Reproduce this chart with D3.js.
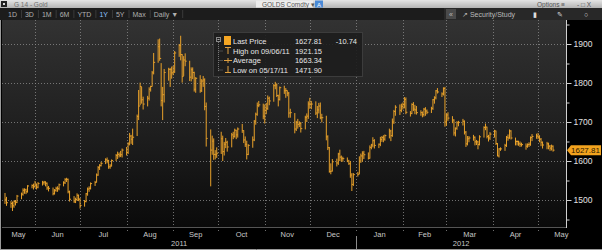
<!DOCTYPE html>
<html>
<head>
<meta charset="utf-8">
<script src="https://cdn.jsdelivr.net/npm/d3@7"></script>
<style>
html, body { margin: 0; padding: 0; background: #000; }
svg { display: block; font-family: "Liberation Sans", Arial, sans-serif; }
</style>
</head>
<body>
<svg id="chart" width="602" height="250"></svg>
<script>
// first trading day of the 1Y window, one value per weekday after it
var startDate = new Date(2011, 4, 12);

var closes = [
    1502, 1493, 1491, 1485, 1496, 1494, 1510, 1515, 1525, 1526, 1521, 1536, 1537, 1535,
    1541, 1533, 1542, 1544, 1546, 1543, 1531, 1530, 1516, 1525, 1530, 1529, 1539, 1544, 1552, 1553, 1521, 1502, 1495, 1501, 1512, 1502,
    1486, 1496, 1516, 1528, 1530, 1542, 1545, 1564, 1583, 1588, 1594, 1603, 1601, 1585, 1587, 1601, 1614, 1617, 1615, 1616, 1628,
    1622, 1644, 1664, 1656, 1661, 1714, 1741, 1791, 1757, 1746, 1761, 1784, 1791, 1826, 1853, 1893, 1863, 1755, 1770, 1827, 1835, 1835, 1826,
    1828, 1877, 1896, 1873, 1817, 1859, 1856, 1815, 1834, 1827, 1784, 1812, 1780, 1805, 1808, 1740, 1658, 1628, 1651, 1617, 1616, 1620,
    1657, 1624, 1643, 1648, 1636, 1667, 1663, 1679, 1667, 1682, 1678, 1654, 1643, 1617, 1640, 1654, 1702, 1720, 1742, 1744, 1715,
    1730, 1735, 1761, 1754, 1793, 1795, 1768, 1758, 1788, 1780, 1781, 1774, 1723, 1724, 1682, 1699, 1694, 1696, 1683, 1712, 1715, 1746,
    1746, 1746, 1723, 1731, 1741, 1711, 1711, 1662, 1634, 1573, 1574, 1598, 1595, 1618, 1610, 1606, 1606, 1600, 1593, 1564, 1540, 1565,
    1566, 1600, 1613, 1620, 1616, 1607, 1635, 1641, 1652, 1640, 1643, 1655, 1660, 1656, 1665, 1677, 1665, 1700, 1727, 1738, 1730, 1740,
    1745, 1758, 1725, 1722, 1745, 1733, 1731, 1724, 1724, 1719, 1733, 1728, 1725, 1735, 1757, 1762, 1780, 1777, 1772, 1786, 1700,
    1718, 1710, 1705, 1672, 1684, 1698, 1699, 1702, 1674, 1644, 1657, 1659, 1661, 1649, 1649, 1642, 1662, 1686, 1687, 1663, 1659, 1669,
    1677, 1645, 1613, 1631, 1631, 1640, 1661, 1659, 1677, 1659, 1650, 1650, 1644, 1643, 1642, 1638, 1642, 1643, 1660, 1663, 1664,
    1662, 1656, 1648, 1641, 1644, 1638, 1633, 1638, 1627.81
];

var highs = [
    1518, 1508, 1497, 1496, 1499, 1500, 1513, 1519, 1530, 1530, 1529, 1538, 1540, 1542,
    1549, 1542, 1546, 1549, 1549, 1548, 1545, 1536, 1532, 1528, 1534, 1535, 1542, 1548, 1556, 1557, 1555, 1524, 1510, 1506, 1517, 1514,
    1505, 1500, 1518, 1532, 1535, 1545, 1549, 1568, 1587, 1592, 1598, 1607, 1609, 1603, 1592, 1604, 1618, 1624, 1622, 1626, 1632,
    1636, 1648, 1672, 1667, 1683, 1719, 1782, 1801, 1790, 1765, 1767, 1789, 1793, 1831, 1877, 1912, 1914, 1851, 1790, 1836, 1839, 1838, 1842,
    1844, 1882, 1900, 1921.15, 1874, 1869, 1876, 1857, 1840, 1840, 1829, 1815, 1820, 1810, 1818, 1812, 1750, 1681, 1665, 1658, 1628, 1635,
    1675, 1665, 1649, 1659, 1652, 1672, 1675, 1683, 1680, 1686, 1695, 1679, 1663, 1652, 1643, 1663, 1705, 1724, 1750, 1754, 1747,
    1745, 1749, 1768, 1765, 1797, 1803, 1799, 1770, 1791, 1793, 1787, 1781, 1777, 1734, 1723, 1703, 1708, 1702, 1700, 1716, 1722, 1753,
    1762, 1754, 1753, 1741, 1749, 1750, 1721, 1716, 1666, 1636, 1594, 1605, 1606, 1621, 1629, 1614, 1611, 1609, 1603, 1600, 1569, 1569,
    1572, 1612, 1619, 1625, 1626, 1622, 1640, 1644, 1661, 1656, 1645, 1662, 1664, 1666, 1668, 1683, 1680, 1709, 1731, 1743, 1745, 1747,
    1750, 1764, 1763, 1728, 1748, 1751, 1744, 1741, 1730, 1727, 1736, 1738, 1732, 1739, 1759, 1766, 1782, 1787, 1776, 1789, 1790,
    1722, 1725, 1715, 1707, 1686, 1702, 1703, 1708, 1704, 1677, 1664, 1664, 1667, 1663, 1654, 1652, 1666, 1689, 1696, 1688, 1667, 1674,
    1680, 1678, 1646, 1633, 1635, 1644, 1664, 1668, 1681, 1679, 1660, 1653, 1652, 1650, 1647, 1645, 1645, 1648, 1663, 1669, 1670,
    1672, 1666, 1659, 1650, 1649, 1647, 1641, 1642, 1640
];

var lows = [
    1490, 1485, 1480, 1471.9, 1480, 1486, 1492, 1502, 1511, 1516, 1515, 1519, 1530, 1527,
    1531, 1527, 1530, 1537, 1539, 1535, 1526, 1522, 1512, 1514, 1521, 1521, 1525, 1535, 1541, 1546, 1517, 1496, 1493, 1492, 1498, 1497,
    1478, 1483, 1494, 1511, 1521, 1527, 1536, 1545, 1562, 1577, 1586, 1592, 1594, 1580, 1580, 1586, 1600, 1605, 1609, 1610, 1609,
    1614, 1618, 1640, 1644, 1641, 1664, 1705, 1743, 1747, 1732, 1740, 1755, 1778, 1791, 1822, 1852, 1857, 1740, 1705, 1750, 1806, 1790, 1811,
    1820, 1826, 1867, 1858, 1801, 1818, 1843, 1805, 1804, 1810, 1778, 1775, 1775, 1777, 1790, 1730, 1637, 1535, 1616, 1603, 1604, 1608,
    1618, 1600, 1614, 1633, 1624, 1635, 1656, 1660, 1656, 1660, 1672, 1646, 1636, 1604, 1615, 1634, 1651, 1693, 1716, 1738, 1707,
    1696, 1720, 1731, 1743, 1752, 1784, 1764, 1740, 1755, 1772, 1762, 1766, 1711, 1711, 1671, 1677, 1683, 1687, 1673, 1681, 1700, 1708,
    1734, 1733, 1718, 1710, 1722, 1707, 1699, 1653, 1628, 1570, 1566, 1573, 1586, 1590, 1600, 1598, 1598, 1597, 1590, 1557, 1523, 1536,
    1560, 1566, 1595, 1598, 1605, 1604, 1606, 1630, 1635, 1632, 1633, 1638, 1649, 1648, 1652, 1658, 1651, 1662, 1695, 1716, 1718, 1725,
    1732, 1735, 1720, 1714, 1720, 1728, 1720, 1719, 1716, 1712, 1714, 1716, 1720, 1723, 1731, 1747, 1758, 1773, 1764, 1768, 1688,
    1690, 1703, 1697, 1665, 1663, 1680, 1689, 1691, 1668, 1636, 1640, 1648, 1652, 1640, 1641, 1630, 1640, 1660, 1679, 1658, 1650, 1654,
    1660, 1641, 1612, 1609, 1626, 1626, 1636, 1652, 1657, 1655, 1640, 1640, 1639, 1636, 1637, 1629, 1634, 1636, 1639, 1651, 1657,
    1656, 1648, 1638, 1632, 1630, 1630, 1626, 1627, 1624
];

var yTicks = [1500, 1600, 1700, 1800, 1900];
var yMinorTicks = [1450, 1550, 1650, 1750, 1850, 1950];

var legendLabels = ['Last Price', 'High on 09/06/11', 'Average', 'Low on 05/17/11'];
var legendValues = ['1627.81', '1921.15', '1663.34', '1471.90'];
var lastChange = '-10.74';

var periodButtons = ['1D', '3D', '1M', '6M', 'YTD', '1Y', '5Y', 'Max', 'Daily \u25BC'];
var activeButton = '1Y';

var barColor = '#e8a12a';

var svg = d3.select('#chart');
var W = 602, H = 250;
var plot = { left: 2, right: 566, top: 20, bottom: 227 };

var days = d3.timeDay.range(startDate, new Date(2012, 5, 1)).filter(function(d) {
    var w = d.getDay();
    return w > 0 && w < 6;
}).slice(0, closes.length);

var bars = days.map(function(d, i) {
    return { date: d, close: closes[i], high: highs[i], low: lows[i] };
});

var x = d3.scaleTime()
    .domain([new Date(2011, 4, 10), new Date(2012, 4, 19, 15)])
    .range([plot.left, plot.right]);
var y = d3.scaleLinear().domain([1500, 1900]).range([200, 44]);

var defs = svg.append('defs');
var bg = defs.append('linearGradient').attr('id', 'bg').attr('x1', 0).attr('y1', 0).attr('x2', 0).attr('y2', 1);
bg.append('stop').attr('offset', '0%').attr('stop-color', '#323232');
bg.append('stop').attr('offset', '55%').attr('stop-color', '#1e1e1e');
bg.append('stop').attr('offset', '100%').attr('stop-color', '#0a0a0a');
var tb = defs.append('linearGradient').attr('id', 'tb').attr('x1', 0).attr('y1', 0).attr('x2', 0).attr('y2', 1);
tb.append('stop').attr('offset', '0%').attr('stop-color', '#e4e4e4');
tb.append('stop').attr('offset', '100%').attr('stop-color', '#b4b4b4');
defs.append('clipPath').attr('id', 'clip').append('rect')
    .attr('x', plot.left).attr('y', plot.top)
    .attr('width', plot.right - plot.left).attr('height', plot.bottom - plot.top);

svg.append('rect').attr('width', W).attr('height', H).attr('fill', '#000');

// title bar
svg.append('rect').attr('width', W).attr('height', 8).attr('fill', 'url(#tb)');
svg.append('rect').attr('x', 1).attr('y', 1).attr('width', 6).attr('height', 6).attr('fill', '#222');
svg.append('rect').attr('x', 3).attr('y', 3).attr('width', 2).attr('height', 2).attr('fill', '#ddd');
svg.append('text').attr('x', 14).attr('y', 6.5).attr('font-size', 6.5).attr('fill', '#707070').text('G 14 - Gold');
svg.append('rect').attr('x', 256).attr('y', 0.5).attr('width', 57).attr('height', 7).attr('fill', '#ececec');
svg.append('text').attr('x', 262).attr('y', 6.5).attr('font-size', 6.5).attr('fill', '#555').text('GOLDS Comdty \u25BE');
svg.append('rect').attr('x', 315).attr('y', 0.5).attr('width', 8).attr('height', 7).attr('fill', '#4a8ad6');
svg.append('text').attr('x', 319).attr('y', 6.5).attr('font-size', 6).attr('text-anchor', 'middle').attr('fill', '#fff').text('A');
svg.append('text').attr('x', 537).attr('y', 6.5).attr('font-size', 6.5).attr('fill', '#555').text('Options \u2261');
svg.append('text').attr('x', 577).attr('y', 6.5).attr('font-size', 6.5).attr('fill', '#555').text('-   \u25A1   X');

// toolbar
svg.append('rect').attr('y', 8).attr('width', W).attr('height', 12).attr('fill', '#1c1c1c');
var bx = 4;
periodButtons.forEach(function(label) {
    var t = svg.append('text').attr('y', 16.5).attr('font-size', 7)
        .attr('fill', label === activeButton ? '#8fc3ff' : '#b0b0b0').text(label);
    var w = t.node().getComputedTextLength();
    if (label === activeButton) {
        svg.insert('rect', 'text').attr('x', bx).attr('y', 9).attr('width', w + 8).attr('height', 10).attr('fill', '#26405e');
    }
    t.attr('x', bx + 4);
    bx += w + 8;
    svg.append('line').attr('x1', bx + 0.5).attr('x2', bx + 0.5).attr('y1', 10).attr('y2', 18).attr('stroke', '#3a3a3a');
});
svg.append('rect').attr('x', 444).attr('y', 8).attr('width', W - 444).attr('height', 12).attr('fill', '#282828');
svg.append('rect').attr('x', 446).attr('y', 9).attr('width', 10).attr('height', 10).attr('fill', '#4a4a4a');
svg.append('text').attr('x', 451).attr('y', 16.5).attr('font-size', 7).attr('text-anchor', 'middle').attr('fill', '#bbb').text('\u00AB');
svg.append('text').attr('x', 462).attr('y', 16.5).attr('font-size', 7).attr('fill', '#bbb').text('\u2197 Security/Study');
svg.append('text').attr('x', 533).attr('y', 17).attr('font-size', 7).attr('fill', '#ddd').text('\u25AE');
svg.append('text').attr('x', 557).attr('y', 17).attr('font-size', 7).attr('fill', '#ddd').text('\u270E');
svg.append('text').attr('x', 584).attr('y', 17).attr('font-size', 7).attr('fill', '#ddd').text('\u25CB');

// plot background
svg.append('rect')
    .attr('x', plot.left).attr('y', plot.top)
    .attr('width', plot.right - plot.left).attr('height', plot.bottom - plot.top)
    .attr('fill', 'url(#bg)');

// grid
var grid = svg.append('g').attr('stroke', '#8a8a8a').attr('stroke-dasharray', '1,2').attr('stroke-opacity', 0.8);
grid.selectAll('line.h').data(yTicks).enter().append('line')
    .attr('x1', plot.left).attr('x2', plot.right)
    .attr('y1', function(d) { return Math.round(y(d)) + 0.5; })
    .attr('y2', function(d) { return Math.round(y(d)) + 0.5; });
var monthStarts = d3.timeMonth.range(x.domain()[0], x.domain()[1]);
grid.selectAll('line.v').data(monthStarts).enter().append('line')
    .attr('x1', function(d) { return Math.round(x(d)) + 0.5; })
    .attr('x2', function(d) { return Math.round(x(d)) + 0.5; })
    .attr('y1', plot.top).attr('y2', plot.bottom + 4);

// price bars
var barG = svg.append('g').attr('clip-path', 'url(#clip)').attr('stroke', barColor).attr('stroke-width', 1);
barG.selectAll('line.hl').data(bars).enter().append('line')
    .attr('x1', function(d) { return x(d.date); })
    .attr('x2', function(d) { return x(d.date); })
    .attr('y1', function(d) { return y(d.high); })
    .attr('y2', function(d) { return y(d.low); });
barG.selectAll('line.c').data(bars).enter().append('line')
    .attr('x1', function(d) { return x(d.date); })
    .attr('x2', function(d) { return x(d.date) + 1.5; })
    .attr('y1', function(d) { return y(d.close); })
    .attr('y2', function(d) { return y(d.close); });

// frame
svg.append('line').attr('x1', 0.5).attr('x2', 0.5).attr('y1', plot.top).attr('y2', H).attr('stroke', '#9a9a9a');
svg.append('line').attr('x1', 0).attr('x2', W).attr('y1', H - 0.5).attr('y2', H - 0.5).attr('stroke', '#9a9a9a');
svg.append('line').attr('x1', plot.left).attr('x2', plot.right).attr('y1', plot.bottom + 0.5).attr('y2', plot.bottom + 0.5).attr('stroke', '#555');

// right axis
var axisG = svg.append('g').attr('transform', 'translate(' + (plot.right + 0.5) + ',0)');
axisG.call(d3.axisRight(y).tickValues(yTicks).tickSize(5).tickPadding(2).tickFormat(d3.format('d')));
axisG.append('g').call(d3.axisRight(y).tickValues(yMinorTicks).tickSize(3).tickFormat(''));
axisG.selectAll('.domain').remove();
axisG.selectAll('line').attr('stroke', '#d0d0d0');
axisG.selectAll('text').attr('fill', '#e0e0e0').attr('font-size', 8.5).attr('font-family', '"Liberation Sans", Arial, sans-serif');
axisG.append('line').attr('y1', plot.top).attr('y2', plot.bottom + 1).attr('stroke', '#d0d0d0');

// last price tag
var lastY = y(closes[closes.length - 1]);
svg.append('path')
    .attr('d', 'M' + (plot.right + 1) + ',' + lastY + 'L' + (plot.right + 5) + ',' + (lastY - 5) + 'H' + (W - 1) + 'V' + (lastY + 5) + 'H' + (plot.right + 5) + 'Z')
    .attr('fill', '#f2a31e');
svg.append('text').attr('x', plot.right + 5).attr('y', lastY + 3).attr('font-size', 8).attr('fill', '#2a1800')
    .text(legendValues[0]);

// bottom axis labels
var fmtMonth = d3.timeFormat('%b');
svg.selectAll('text.month').data(monthStarts.concat([d3.timeMonth.floor(x.domain()[0])]).sort(d3.ascending)).enter().append('text')
    .attr('x', function(d) {
        var s = d < x.domain()[0] ? x.domain()[0] : d;
        return (x(s) + x(d3.timeMonth.offset(d, 1))) / 2;
    })
    .attr('y', 237).attr('text-anchor', 'middle').attr('font-size', 7.5).attr('fill', '#c8c8c8')
    .text(fmtMonth);
var years = [new Date(2011, 0, 1), new Date(2012, 0, 1)];
svg.selectAll('text.year').data(years).enter().append('text')
    .attr('x', function(d) {
        var s = d < x.domain()[0] ? x.domain()[0] : d;
        var e = d3.timeYear.offset(d, 1);
        if (e > x.domain()[1]) e = x.domain()[1];
        return (x(s) + x(e)) / 2;
    })
    .attr('y', 246).attr('text-anchor', 'middle').attr('font-size', 7.5).attr('fill', '#c8c8c8')
    .text(d3.timeFormat('%Y'));
svg.append('line')
    .attr('x1', Math.round(x(years[1])) + 0.5).attr('x2', Math.round(x(years[1])) + 0.5)
    .attr('y1', 236).attr('y2', H - 1).attr('stroke', '#8a8a8a');

// legend
var lg = svg.append('g');
lg.append('rect').attr('x', 213.5).attr('y', 32.5).attr('width', 149).attr('height', 44)
    .attr('fill', '#1d1d1d').attr('fill-opacity', 0.9).attr('stroke', '#3c3c3c');
lg.append('rect').attr('x', 216.5).attr('y', 37.5).attr('width', 4).attr('height', 4).attr('fill', 'none').attr('stroke', '#888');
lg.append('line').attr('x1', 217.5).attr('x2', 219.5).attr('y1', 39.5).attr('y2', 39.5).attr('stroke', '#aaa');
lg.append('line').attr('x1', 218.5).attr('x2', 218.5).attr('y1', 42).attr('y2', 71).attr('stroke', '#777').attr('stroke-dasharray', '1,1');
var rowY = [41, 50.5, 60, 69.5];
rowY.slice(1).forEach(function(ry) {
    lg.append('line').attr('x1', 218.5).attr('x2', 223).attr('y1', ry + 0.5).attr('y2', ry + 0.5)
        .attr('stroke', '#777').attr('stroke-dasharray', '1,1');
});
lg.append('rect').attr('x', 224).attr('y', 36).attr('width', 7).attr('height', 9).attr('fill', '#f5a623');
var ic = lg.append('g').attr('stroke', '#e0a040').attr('stroke-width', 1);
ic.append('line').attr('x1', 225).attr('x2', 231).attr('y1', 47.5).attr('y2', 47.5);
ic.append('line').attr('x1', 228).attr('x2', 228).attr('y1', 47.5).attr('y2', 54);
ic.append('line').attr('x1', 224).attr('x2', 232).attr('y1', 60.5).attr('y2', 60.5);
ic.append('line').attr('x1', 228).attr('x2', 228).attr('y1', 58).attr('y2', 63);
ic.append('line').attr('x1', 228).attr('x2', 228).attr('y1', 66).attr('y2', 72.5);
ic.append('line').attr('x1', 225).attr('x2', 231).attr('y1', 72.5).attr('y2', 72.5);
lg.selectAll('text.lab').data(legendLabels).enter().append('text')
    .attr('x', 233).attr('y', function(d, i) { return rowY[i] + 3; })
    .attr('font-size', 7.5).attr('fill', '#e6e6e6').text(function(d) { return d; });
lg.selectAll('text.val').data(legendValues).enter().append('text')
    .attr('x', 322).attr('y', function(d, i) { return rowY[i] + 3; })
    .attr('text-anchor', 'end').attr('font-size', 7.5).attr('fill', '#e6e6e6').text(function(d) { return d; });
lg.append('text').attr('x', 357).attr('y', rowY[0] + 3).attr('text-anchor', 'end')
    .attr('font-size', 7.5).attr('fill', '#e6e6e6').text(lastChange);
</script>
</body>
</html>
